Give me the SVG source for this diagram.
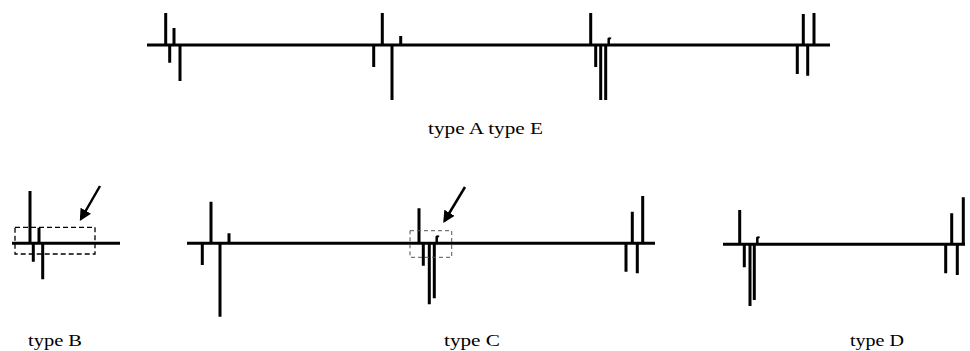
<svg xmlns="http://www.w3.org/2000/svg" width="970" height="351" viewBox="0 0 970 351">
<style>
.b{stroke:#000;stroke-width:3;fill:none}
.s{stroke:#000;stroke-width:3;fill:none}
.lbl{font-family:"Liberation Serif","Times New Roman",serif;font-size:16px;fill:#000}
.box1{stroke:#000;stroke-width:1.3;fill:none;stroke-dasharray:5 3}
.box2{stroke:#555;stroke-width:1;fill:none;stroke-dasharray:4 3}
.arr{stroke:#000;stroke-width:2.5;fill:none}
</style>
<defs>
<marker id="ah" viewBox="0 0 10 10" refX="8" refY="5" markerWidth="4.8" markerHeight="4.8" orient="auto" markerUnits="strokeWidth">
<path d="M0,0 L10,5 L0,10 z" fill="#000"/>
</marker>
</defs>
<rect width="970" height="351" fill="#fff"/>

<g id="typeAE">
<line class="b" x1="147" y1="45" x2="830" y2="45"/>
<path class="s" d="M165.7,13V45 M174,28V45 M169.7,45V62.7 M180,45V81
M382.3,13V45 M400.7,36V45 M373.7,45V67 M392,45V100
M590.7,13V45 M595.7,45V67 M600.7,45V100 M605.7,45V100
M803.3,14V45 M814,13V45 M797.3,45V74 M807.7,45V75.7"/>
<path stroke="#000" stroke-width="2.5" fill="none" d="M608.7,45V39 q1,-1 2,0"/>
<text class="lbl" x="428" y="134" textLength="115" lengthAdjust="spacingAndGlyphs">type A type E</text>
</g>

<g id="typeB">
<line class="b" x1="12" y1="243.3" x2="120" y2="243.3"/>
<path class="s" d="M30,191V243 M39,227.7V243 M33.3,243V261.7 M42.7,243V279.3"/>
<rect class="box1" x="15" y="227.3" width="80" height="26.7"/>
<line class="arr" x1="100" y1="186" x2="81" y2="219" marker-end="url(#ah)"/>
<text class="lbl" x="28" y="346" textLength="54" lengthAdjust="spacingAndGlyphs">type B</text>
</g>

<g id="typeC">
<line class="b" x1="187" y1="243.3" x2="655" y2="243.3"/>
<path class="s" d="M211,201.7V243 M229,233.3V243 M202.3,243V265 M220,243V316.7
M419,208.3V243 M423.3,243V265.7 M429.3,243V304.3 M434.3,243V298.3
M632.3,211.7V243 M642.7,196V243 M626,243V271.7 M637.3,243V273.3"/>
<path stroke="#000" stroke-width="2.5" fill="none" d="M436.7,243V237 q1,-1 2,0"/>
<rect class="box2" x="410" y="230.7" width="41.7" height="26.6"/>
<line class="arr" x1="465" y1="187" x2="444.5" y2="221" marker-end="url(#ah)"/>
<text class="lbl" x="444" y="346" textLength="56" lengthAdjust="spacingAndGlyphs">type C</text>
</g>

<g id="typeD">
<line class="b" x1="723" y1="244.3" x2="965" y2="244.3"/>
<path class="s" d="M739.7,210V244 M744.3,244V267.3 M750,244V306 M754.3,244V300
M951.7,213.3V244 M963.3,197.3V244 M945.7,244V273.3 M957.3,244V275"/>
<path stroke="#000" stroke-width="2.5" fill="none" d="M757.3,244V238 q1,-1 2,0"/>
<text class="lbl" x="850" y="346" textLength="54" lengthAdjust="spacingAndGlyphs">type D</text>
</g>
</svg>
